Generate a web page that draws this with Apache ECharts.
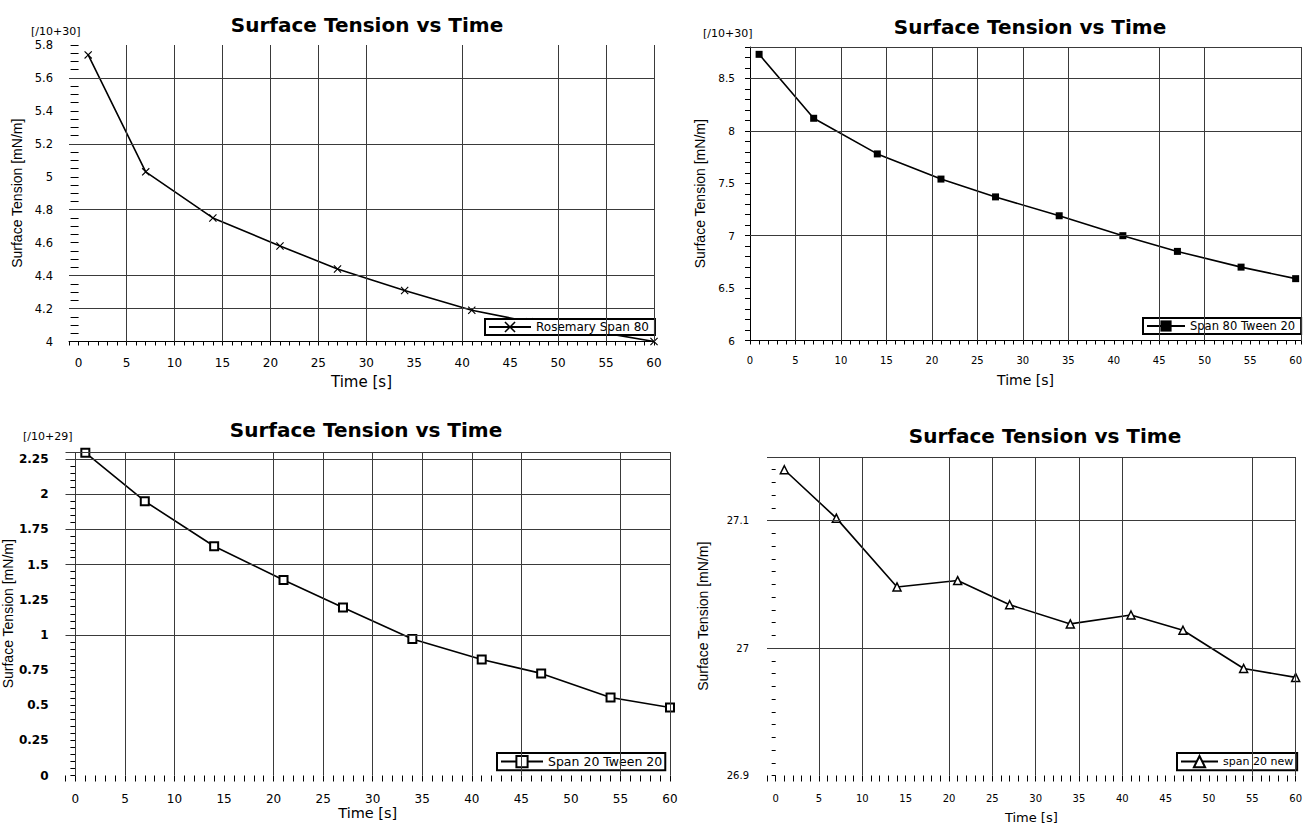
<!DOCTYPE html>
<html><head><meta charset="utf-8">
<script src="https://cdn.jsdelivr.net/npm/echarts@6/dist/echarts.min.js"></script>
<style>html,body{margin:0;padding:0;background:#fff}#c{width:1305px;height:829px}</style>
</head><body><div id="c"></div>
<script>
// ---- data ----
const timeS = [1, 7, 14, 21, 27, 34, 41, 47, 54, 60];
const rosemarySpan80 = [5.74, 5.03, 4.75, 4.58, 4.44, 4.31, 4.19, 4.12, 4.06, 4.0];
const span80Tween20 = [8.73, 8.12, 7.78, 7.54, 7.37, 7.19, 7.0, 6.85, 6.70, 6.59];
const span20Tween20 = [2.295, 1.95, 1.63, 1.39, 1.195, 0.97, 0.825, 0.726, 0.555, 0.484];
const span20New = [27.140, 27.102, 27.048, 27.053, 27.034, 27.019, 27.026, 27.014, 26.984, 26.977];
const seriesNames = ['Rosemary Span 80', 'Span 80 Tween 20', 'Span 20 Tween 20', 'span 20 new'];
const scaleLabels = ['[/10+30]', '[/10+30]', '[/10+29]', ''];
// grid (reference) lines drawn in each panel
const gridX1 = [5, 10, 15, 20, 25, 30, 40, 50, 55, 60];
const gridY1 = [4.2, 4.4, 4.8, 5.2, 5.6];
const gridX2 = [5, 10, 15, 20, 25, 30, 35, 45, 50, 60.6];
const gridY2 = [7, 8, 8.5, 8.8];
const gridX3 = [0, 5, 10, 20, 25, 30, 35, 40, 45, 55, 60];
const gridY3 = [1, 1.5, 1.75, 2, 2.25, 2.3];
const gridX4 = [5, 10, 20, 25, 30, 35, 40, 55, 60];
const gridY4 = [27, 27.1, 27.15];
// axis ranges / label steps
const xLabelStep = 5;
const yRanges = [[4, 5.8], [6, 8.8], [0, 2.3], [26.9, 27.15]];
const yLabelSteps = [0.2, 0.5, 0.25, 0.1];
const yTickSteps = [0.05, 0.1, 0.05, 0.01];
const xRanges = [[-1, 60], [0, 60.6], [-1, 60], [-1, 60]];

const values = [rosemarySpan80, span80Tween20, span20Tween20, span20New];
const gx = [gridX1, gridX2, gridX3, gridX4];
const gy = [gridY1, gridY2, gridY3, gridY4];

function stepFmt(step) {
  return function (v) {
    const k = v / step;
    return Math.abs(k - Math.round(k)) < 1e-6 ? String(Math.round(v * 1000) / 1000) : '';
  };
}

// ---- layout / style per panel ----
const panels = [
  { grid: {left: 69, top: 45, width: 585, height: 296.5}, title: [367, 15], scale: [31, 26],
    xAxisLine: true, xTickLen: 4, xLabelSize: 12, xLabelMargin: 15, xNameSize: 15, xNameGap: 33,
    yTickLen: 8, yLabelSize: 11.5, yLabelMargin: 16, yLabelBold: false, yNameGap: 45, yAxisLine: false,
    legend: {left: 485, top: 319, w: 42, fs: 12, pad: [2, 6, 2, 3]},
    symbol: 'path://M1,0 L5,4 L9,0 L10,1 L6,5 L10,9 L9,10 L5,6 L1,10 L0,9 L4,5 L0,1 Z', symbolSize: 8,
    item: {color: '#000'} },
  { grid: {left: 750, top: 47, width: 553, height: 293.5}, title: [1030, 16.5], scale: [703, 28],
    xAxisLine: true, xTickLen: 4, xLabelSize: 10, xLabelMargin: 15, xNameSize: 14, xNameGap: 32,
    yTickLen: 5, yLabelSize: 10.5, yLabelMargin: 15, yLabelBold: false, yNameGap: 43, yAxisLine: true,
    legend: {left: 1143, top: 318, w: 38, fs: 11.5, pad: [2, 6, 2, 3]},
    symbol: 'rect', symbolSize: 7, item: {color: '#000'} },
  { grid: {left: 64, top: 452, width: 606, height: 323.5}, title: [366, 420], scale: [23, 431],
    xAxisLine: false, xTickLen: 6, xLabelSize: 12, xLabelMargin: 17.5, xNameSize: 14.5, xNameGap: 30,
    yTickLen: 5, yLabelSize: 12, yLabelMargin: 17, yLabelBold: true, yNameGap: 50, yAxisLine: false,
    legend: {left: 497, top: 753, w: 42, fs: 12.5, pad: [2, 3, 2, 3]},
    symbol: 'rect', symbolSize: 8, item: {color: '#fff', borderColor: '#000', borderWidth: 2} },
  { grid: {left: 767, top: 457, width: 530, height: 318.5}, title: [1045, 425.5], scale: null,
    xAxisLine: false, xTickLen: 6, xLabelSize: 10, xLabelMargin: 17.5, xNameSize: 13, xNameGap: 35,
    yTickLen: 4, yLabelSize: 10, yLabelMargin: 18, yLabelBold: false, yNameGap: 57, yAxisLine: false,
    legend: {left: 1177, top: 753, w: 37, fs: 11, pad: [2, 4, 2, 3]},
    symbol: 'triangle', symbolSize: 8, item: {color: '#fff', borderColor: '#000', borderWidth: 1.5} }
];

const FONT = 'DejaVu Sans';
const option = {
  backgroundColor: '#fff',
  animation: false,
  title: [], grid: [], xAxis: [], yAxis: [], legend: [], series: [], graphic: []
};

panels.forEach(function (p, i) {
  option.title.push({
    text: 'Surface Tension vs Time', left: p.title[0], top: p.title[1], textAlign: 'center', padding: 0,
    textStyle: {fontFamily: FONT, fontWeight: 'bold', fontSize: 20, color: '#000'}
  });
  option.grid.push(Object.assign({show: false, containLabel: false}, p.grid));
  option.xAxis.push({
    type: 'value', gridIndex: i, min: xRanges[i][0], max: xRanges[i][1], interval: 1,
    axisLine: {show: p.xAxisLine, onZero: false, lineStyle: {color: '#000', width: 1}},
    axisTick: {show: true, inside: false, length: p.xTickLen, lineStyle: {color: '#000', width: 1}},
    axisLabel: {formatter: stepFmt(xLabelStep), color: '#000', fontFamily: FONT, fontSize: p.xLabelSize, margin: p.xLabelMargin},
    splitLine: {show: false},
    name: 'Time [s]', nameLocation: 'middle', nameGap: p.xNameGap,
    nameTextStyle: {fontFamily: FONT, fontSize: p.xNameSize, color: '#000'}
  });
  option.yAxis.push({
    type: 'value', gridIndex: i, min: yRanges[i][0], max: yRanges[i][1], interval: yTickSteps[i],
    axisLine: {show: p.yAxisLine, onZero: true, lineStyle: {color: '#000', width: 1}},
    axisTick: {show: true, inside: false, length: p.yTickLen, lineStyle: {color: '#000', width: 1}},
    axisLabel: {formatter: stepFmt(yLabelSteps[i]), color: '#000', fontFamily: FONT, fontSize: p.yLabelSize,
      fontWeight: p.yLabelBold ? 'bold' : 'normal', margin: p.yLabelMargin},
    splitLine: {show: false},
    name: 'Surface Tension [mN/m]', nameLocation: 'middle', nameGap: p.yNameGap, nameRotate: 90,
    nameTextStyle: {fontFamily: 'Liberation Sans', fontSize: 14, color: '#000'}
  });
  // grid lines
  option.series.push({
    type: 'line', name: '_grid' + i, xAxisIndex: i, yAxisIndex: i, data: [], z: 1, silent: true,
    markLine: {
      silent: true, symbol: ['none', 'none'], label: {show: false}, animation: false,
      emphasis: {disabled: true},
      lineStyle: {color: '#3a3a3a', width: 1, type: 'solid'},
      data: gx[i].map(function (v) { return {xAxis: v}; }).concat(gy[i].map(function (v) { return {yAxis: v}; }))
    }
  });
  option.series.push({
    type: 'line', name: seriesNames[i], xAxisIndex: i, yAxisIndex: i, z: 3,
    data: timeS.map(function (t, k) { return [t, values[i][k]]; }),
    symbol: p.symbol, symbolSize: p.symbolSize, showAllSymbol: true,
    lineStyle: {color: '#000', width: 1.6},
    itemStyle: p.item, color: '#000',
    emphasis: {disabled: true}
  });
  option.legend.push({
    data: [seriesNames[i]], left: p.legend.left, top: p.legend.top, orient: 'horizontal',
    padding: p.legend.pad, itemWidth: p.legend.w, itemHeight: 14, itemGap: 5,
    backgroundColor: '#fff', borderColor: '#000', borderWidth: 2, borderRadius: 0,
    selectedMode: false,
    textStyle: {fontFamily: FONT, fontSize: p.legend.fs, color: '#000', padding: [0, 0, 0, 0]}
  });
  if (p.scale) {
    option.graphic.push({
      type: 'text', left: p.scale[0], top: p.scale[1],
      style: {text: scaleLabels[i], font: '11px "DejaVu Sans"', fill: '#000'}
    });
  }
});

const chart = echarts.init(document.getElementById('c'), null, {renderer: 'svg'});
chart.setOption(option);
</script>
</body></html>
